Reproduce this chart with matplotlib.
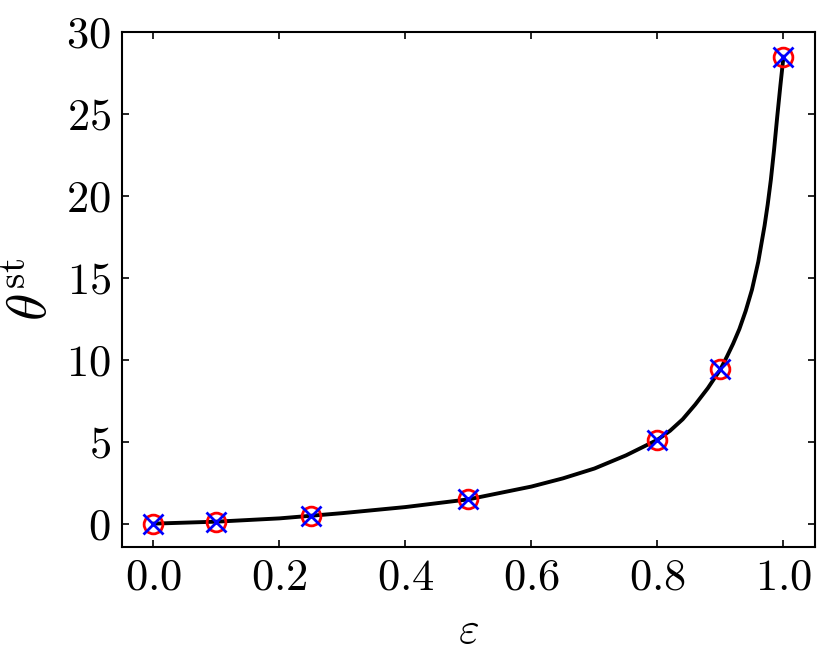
import matplotlib
matplotlib.use("Agg")
import matplotlib.pyplot as plt

plt.rcParams['font.family'] = 'serif'
plt.rcParams['font.serif'] = ['cmr10']
plt.rcParams['mathtext.fontset'] = 'cm'
plt.rcParams['axes.formatter.use_mathtext'] = True

# Continuous curve
eps_curve = [0.0, 0.1, 0.2, 0.3, 0.4, 0.5, 0.6, 0.65, 0.7, 0.75, 0.8, 0.82, 0.84,
             0.86, 0.88, 0.9, 0.91, 0.92, 0.93, 0.94, 0.95, 0.96, 0.97, 0.975,
             0.98, 0.985, 0.99, 0.995, 1.0]
theta_curve = [0.04, 0.16, 0.36, 0.68, 1.05, 1.52, 2.3, 2.8, 3.4, 4.2, 5.15, 5.7, 6.4,
               7.3, 8.3, 9.45, 10.2, 11.0, 11.9, 13.0, 14.3, 16.0, 18.2, 19.5,
               21.0, 22.8, 24.8, 26.7, 28.5]

# Discrete points
eps_pts = [0.0, 0.1, 0.25, 0.5, 0.8, 0.9, 1.0]
theta_circles = [0.04, 0.15, 0.5, 1.52, 5.12, 9.45, 28.46]
theta_crosses = [0.04, 0.15, 0.5, 1.52, 5.12, 9.45, 28.46]

fig = plt.figure(figsize=(8.31, 6.69), dpi=100)
ax = fig.add_axes([0.1468, 0.1824, 0.8339, 0.7696])

ax.plot(eps_curve, theta_curve, color='black', lw=2.8, zorder=2,
        solid_joinstyle='round')
ax.plot(eps_pts, theta_circles, 'o', mfc='none', mec='red', ms=13.5, mew=2.0, zorder=3)
ax.plot(eps_pts, theta_crosses, 'x', color='blue', ms=14, mew=2.0, zorder=4)

ax.set_xticks([0.0, 0.2, 0.4, 0.6, 0.8, 1.0])
ax.set_yticks([0, 5, 10, 15, 20, 25, 30])
ax.set_xticklabels([r'$0.0$', r'$0.2$', r'$0.4$', r'$0.6$', r'$0.8$', r'$1.0$'])
ax.set_yticklabels([r'$0$', r'$5$', r'$10$', r'$15$', r'$20$', r'$25$', r'$30$'])
ax.tick_params(direction='in', top=True, right=True, length=5, width=1.2,
               labelsize=32, pad=8)
for s in ax.spines.values():
    s.set_linewidth(1.5)

ax.set_xlabel(r'$\varepsilon$', fontsize=32, labelpad=10)
ax.set_ylabel(r'$\theta^{\rm st}$', fontsize=40, labelpad=6)

fig.savefig('out.png', dpi=100)
